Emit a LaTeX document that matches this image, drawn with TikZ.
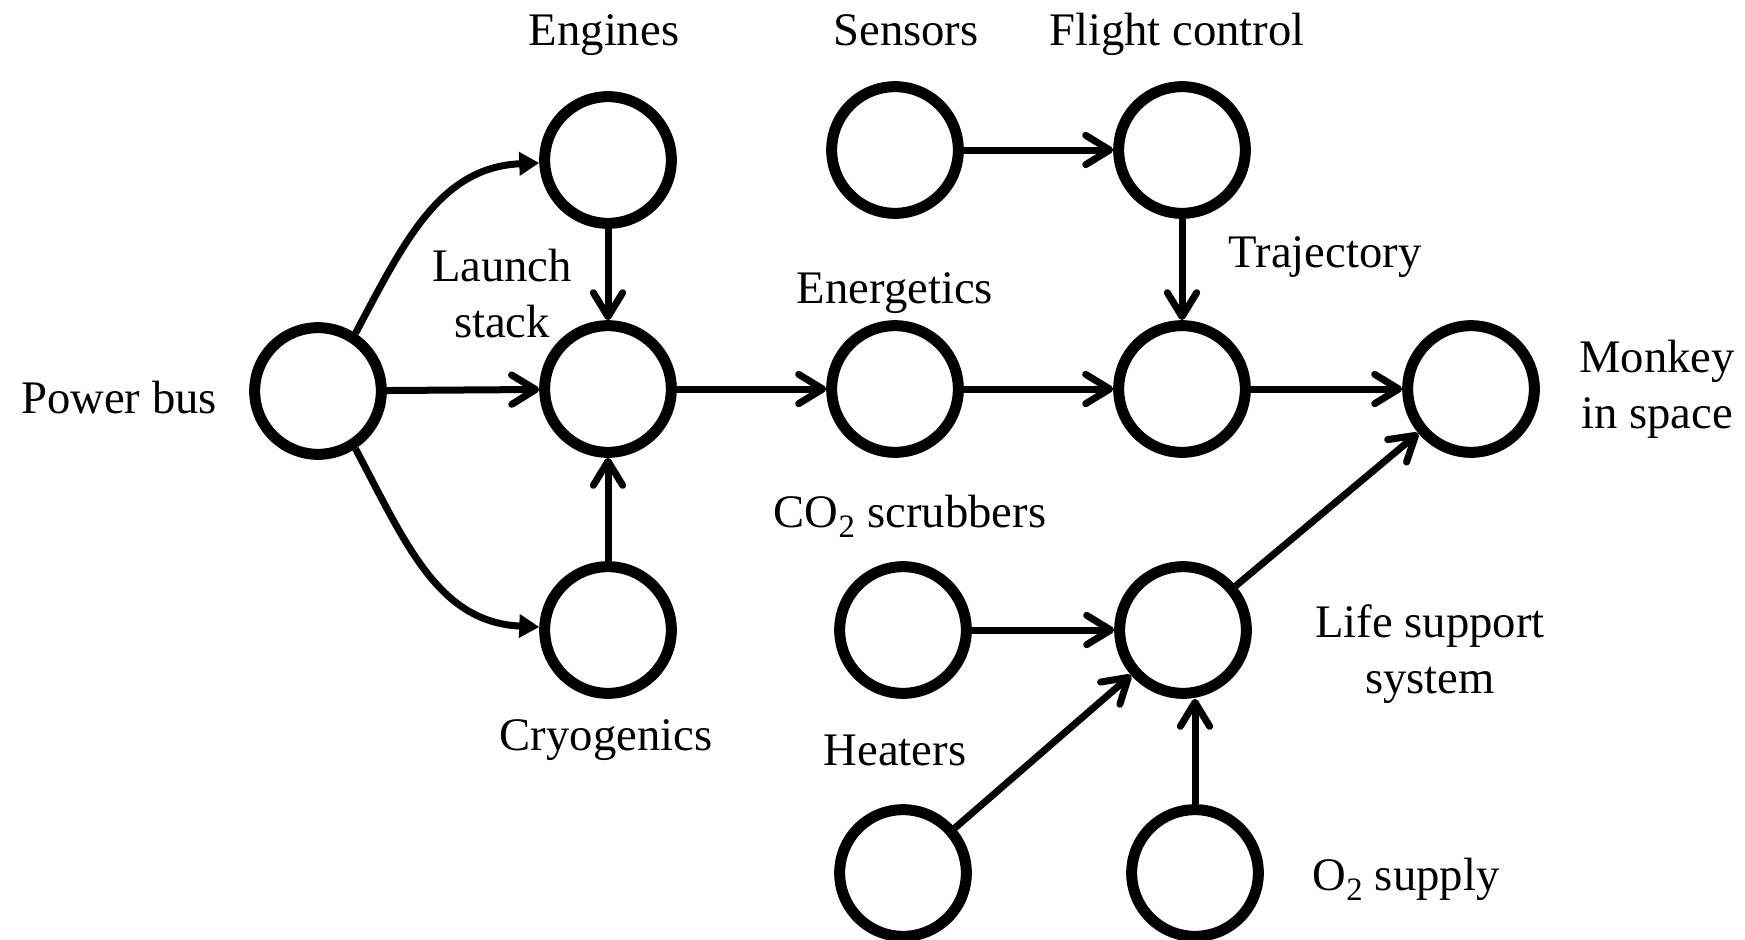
\documentclass[tikz,border=0pt]{standalone}
\usepackage{fontspec}
\setmainfont{Liberation Serif}
\usetikzlibrary{arrows.meta}

\tikzset{
  sysnode/.style={draw, circle, line width=8.25pt, minimum size=95pt, inner sep=0pt},
  lbl/.style={anchor=base, inner sep=0pt, align=center, font=\fontsize{35}{42}\selectfont},
  flow/.style={line width=5.25pt, -{Straight Barb[length=18pt,width=22pt,round]}},
  feed/.style={line width=5.25pt, -{Triangle[length=15pt,width=17pt]}}
}

\begin{document}
\begin{tikzpicture}[x=0.75pt,y=0.75pt,yscale=-1,xscale=1]
\useasboundingbox (0,0) rectangle (1745,939);

%Circles
\node [sysnode] (pwr) at (318,391) {};
\node [sysnode] (eng) at (608,160) {};
\node [sysnode] (launch) at (608,389) {};
\node [sysnode] (cryo) at (608,630) {};
\node [sysnode] (sens) at (895,150) {};
\node [sysnode] (flight) at (1182,150) {};
\node [sysnode] (energ) at (895,389) {};
\node [sysnode] (traj) at (1182,389) {};
\node [sysnode] (monkey) at (1471,389) {};
\node [sysnode] (co2) at (903,630) {};
\node [sysnode] (life) at (1183,630) {};
\node [sysnode] (heat) at (903,873) {};
\node [sysnode] (otwo) at (1195,873) {};

%Curved Lines
\draw [feed] (pwr.57) to[out=-62,in=168] (eng);
\draw [feed] (pwr.-57) to[out=62,in=192] (cryo);
%Straight Lines
\draw [flow] (pwr) -- (launch);
\draw [flow] (eng) -- (launch);
\draw [flow] (cryo) -- (launch);
\draw [flow] (launch) -- (energ);
\draw [flow] (energ) -- (traj);
\draw [flow] (sens) -- (flight);
\draw [flow] (flight) -- (traj);
\draw [flow] (traj) -- (monkey);
\draw [flow] (co2) -- (life);
\draw [flow] (heat) -- (life);
\draw [flow] (otwo) -- (otwo |- life.south);
\draw [flow] (life) -- (monkey);

% Text Node
\node [lbl] (pwr-l) at (119,413) {Power bus};
% Text Node
\node [lbl] (eng-l) at (604,45) {Engines};
% Text Node
\node [lbl] (launch-l) at (502,337) {Launch\\stack};
% Text Node
\node [lbl] (cryo-l) at (606,750) {Cryogenics};
% Text Node
\node [lbl] (sens-l) at (906,45) {Sensors};
% Text Node
\node [lbl] (flight-l) at (1177,45) {Flight control};
% Text Node
\node [lbl] (energ-l) at (895,303) {Energetics};
% Text Node
\node [lbl] (traj-l) at (1325,267) {Trajectory};
% Text Node
\node [lbl] (monkey-l) at (1657,428) {Monkey\\in space};
% Text Node
\node [lbl] (co2-l) at (910,527) {CO\textsubscript{2} scrubbers};
% Text Node
\node [lbl] (life-l) at (1430,693) {Life support\\system};
% Text Node
\node [lbl] (heat-l) at (895,765) {Heaters};
% Text Node
\node [lbl] (otwo-l) at (1406,890) {O\textsubscript{2} supply};

\end{tikzpicture}
\end{document}
